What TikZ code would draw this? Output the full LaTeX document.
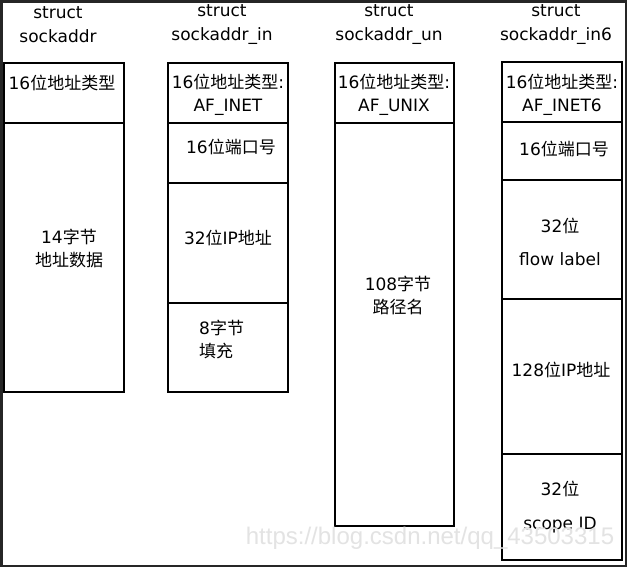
\documentclass[tikz,border=0pt]{standalone}
\usepackage{fontspec}
\setmainfont{DejaVu Sans}
\newfontfamily\cjk{Noto Sans CJK SC}
\newfontfamily\wmfont{Liberation Sans}
\newcommand{\zh}[1]{{\cjk #1}}
\begin{document}
\begin{tikzpicture}[x=1pt,y=-1pt,
  cell/.style={draw=black, line width=2pt, inner sep=0pt, minimum width=120pt},
  lbl/.style={inner sep=0pt, align=center, font=\fontsize{17}{23}\selectfont},
  ttl/.style={inner sep=0pt, align=center, font=\fontsize{17}{24}\selectfont},
  wm/.style={inner sep=0pt, text=gray!22, font=\wmfont\fontsize{24}{28}\selectfont}]
% frame
\fill[black!85] (0,0) rectangle (627,567);
\fill[white] (3,3) rectangle (625,565);
% titles
\node[ttl] (t1) at (58,25) {struct\\sockaddr};
\node[ttl] (t2) at (222,25) {struct\\sockaddr\_in};
\node[ttl] (t3) at (389,25) {struct\\sockaddr\_un};
\node[ttl] (t4) at (556,25) {struct\\sockaddr\_in6};
% column 1
\node[cell, minimum height=60pt] (a1) at (64,93) {};
\node[cell, minimum height=269pt] (a2) at (64,257.5) {};
% column 2
\node[cell, minimum height=60pt] (b1) at (228,93) {};
\node[cell, minimum height=60pt] (b2) at (228,153) {};
\node[cell, minimum height=120pt] (b3) at (228,243) {};
\node[cell, minimum height=89pt] (b4) at (228,347.5) {};
% column 3
\node[cell, minimum width=119pt, minimum height=60pt] (c1) at (394.5,93) {};
\node[cell, minimum width=119pt, minimum height=403pt] (c2) at (394.5,324.5) {};
% column 4
\node[cell, minimum height=60pt] (d1) at (562,92) {};
\node[cell, minimum height=58pt] (d2) at (562,151) {};
\node[cell, minimum height=119pt] (d3) at (562,239.5) {};
\node[cell, minimum height=155pt] (d4) at (562,376.5) {};
\node[cell, minimum height=106pt] (d5) at (562,507) {};
% labels
\node[lbl] (la1) at (62,83) {16\zh{位地址类型}};
\node[lbl] (la2) at (69,249) {14\zh{字节}\\\zh{地址数据}};
\node[lbl] (lb1) at (228,95) {16\zh{位地址类型}:\\AF\_INET};
\node[lbl] (lb2) at (231,147) {16\zh{位端口号}};
\node[lbl] (lb3) at (228,238) {32\zh{位}IP\zh{地址}};
\node[lbl, align=left, anchor=west] (lb4) at (199,339) {8\zh{字节}\\\zh{填充}};
\node[lbl] (lc1) at (394,95) {16\zh{位地址类型}:\\AF\_UNIX};
\node[lbl] (lc2) at (398,295) {108\zh{字节}\\\zh{路径名}};
\node[lbl] (ld1) at (562,95) {16\zh{位地址类型}:\\AF\_INET6};
\node[lbl] (ld2) at (564,149) {16\zh{位端口号}};
\node[lbl] (ld3) at (560,242) {32\zh{位}\\[10pt]flow label};
\node[lbl] (ld4) at (561,370) {128\zh{位}IP\zh{地址}};
\node[lbl] (ld5) at (560,507) {32\zh{位}\\[11pt]scope ID};
% watermark
\node[wm] (wmk) at (430,538) {https://blog.csdn.net/qq\_43503315};
\end{tikzpicture}
\end{document}
